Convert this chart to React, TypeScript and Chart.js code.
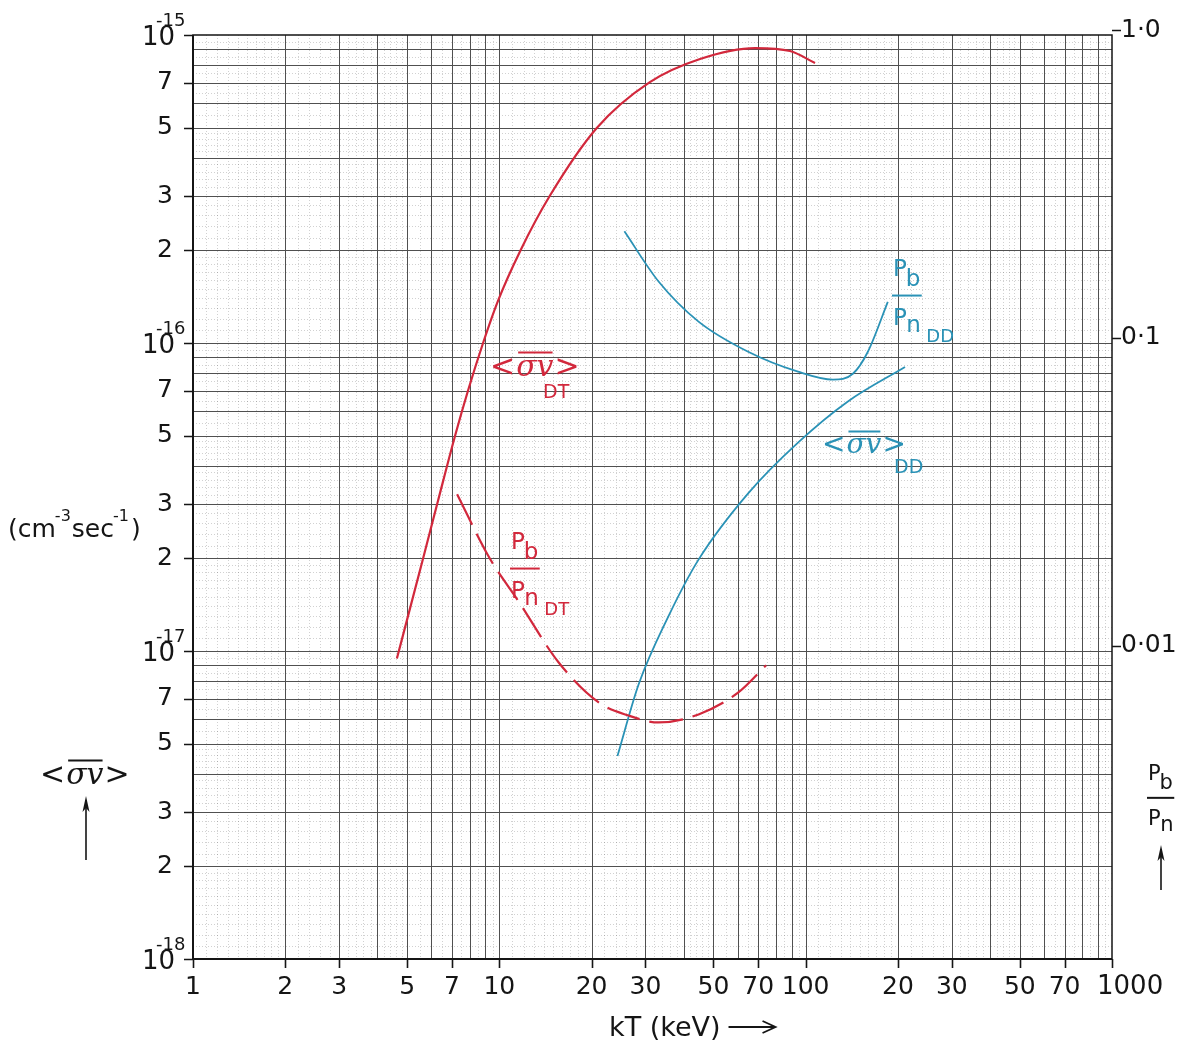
import React, { useEffect, useRef } from "react";
import { Chart, registerables } from "chart.js";

Chart.register(...registerables);

const RED = "#d2283c";
const BLUE = "#2a92b6";
const INK = "#151515";
const FONT = "'DejaVu Sans', sans-serif";
const SERIF = "'DejaVu Serif', serif";

// ---- axis ticks ----
const xTickValues = [1, 2, 3, 5, 7, 10, 20, 30, 50, 70, 100, 200, 300, 500, 700, 1000];
const xTickLabels = ["1", "2", "3", "5", "7", "10", "20", "30", "50", "70", "100", "20", "30", "50", "70", "1000"];
const yTickValues = [
  1e-18, 2e-18, 3e-18, 5e-18, 7e-18,
  1e-17, 2e-17, 3e-17, 5e-17, 7e-17,
  1e-16, 2e-16, 3e-16, 5e-16, 7e-16,
  1e-15,
];
const yTickLabels = [
  "", "2", "3", "5", "7",
  "", "2", "3", "5", "7",
  "", "2", "3", "5", "7",
  "",
];
const yDecadeValues = [1e-18, 1e-17, 1e-16, 1e-15];
const yDecadeExponents = ["-18", "-17", "-16", "-15"];
const ratioTickValues = [1.0, 0.1, 0.01];
const ratioTickLabels = ["1·0", "0·1", "0·01"];

// ---- series: <σv> DT (cm^3/s) ----
const dtSigmaKT = [4.63, 5.64, 6.31, 7.17, 7.9, 8.85, 9.9, 11.7, 14.6, 20.8, 31.0, 45.2, 68.4, 88.9, 107.3];
const dtSigmaV = [9.46e-18, 2.0e-17, 3.08e-17, 5.0e-17, 7.0e-17, 1.0e-16, 1.37e-16, 1.99e-16, 3.0e-16, 4.99e-16, 7.03e-16, 8.36e-16, 9.07e-16, 8.87e-16, 8.11e-16];

// ---- series: Pb/Pn DT (right axis) ----
const dtRatioKT = [7.28, 9.26, 11.6, 15.6, 21.1, 26.4, 33.1, 44.7, 60.3, 74.3];
const dtRatio = [0.0311, 0.0194, 0.01387, 0.00885, 0.00655, 0.00594, 0.00564, 0.00599, 0.00706, 0.00865];

// ---- series: <σv> DD ----
const ddSigmaKT = [24.3, 28.5, 35.7, 44.7, 64.9, 94.4, 137, 211];
const ddSigmaV = [4.56e-18, 7.8e-18, 1.3e-17, 1.98e-17, 3.25e-17, 4.75e-17, 6.45e-17, 8.36e-17];

// ---- series: Pb/Pn DD (right axis) ----
const ddRatioKT = [25.6, 33.1, 44.7, 64.9, 94.4, 122.8, 142.6, 159.6, 185.4];
const ddRatio = [0.222, 0.1525, 0.113, 0.0902, 0.0777, 0.0732, 0.0765, 0.0902, 0.131];

const pts = (xs: number[], ys: number[]) => xs.map((x, i) => ({ x, y: ys[i] }));

function minorSteps(): number[] {
  const out: number[] = [];
  for (let m = 1.1; m < 1.999; m += 0.1) out.push(+m.toFixed(2));
  for (let m = 2.2; m < 4.999; m += 0.2) out.push(+m.toFixed(2));
  for (let m = 5.5; m < 9.999; m += 0.5) out.push(+m.toFixed(2));
  return out.filter((m) => Math.abs(m - Math.round(m)) > 1e-6);
}

function drawGrid(chart: any) {
  const { ctx, chartArea, scales } = chart;
  const { left, right, top, bottom } = chartArea;
  const xs = scales.x;
  const ys = scales.y;
  const minors = minorSteps();
  ctx.save();
  ctx.strokeStyle = "rgba(0,0,0,0.18)";
  ctx.lineWidth = 1;
  ctx.setLineDash([1, 2]);
  ctx.beginPath();
  for (const d of [1, 10, 100]) {
    for (const m of minors) {
      const px = Math.round(xs.getPixelForValue(d * m)) + 0.5;
      ctx.moveTo(px, top);
      ctx.lineTo(px, bottom);
    }
  }
  for (const d of [1e-18, 1e-17, 1e-16]) {
    for (const m of minors) {
      const py = Math.round(ys.getPixelForValue(d * m)) + 0.5;
      ctx.moveTo(left, py);
      ctx.lineTo(right, py);
    }
  }
  ctx.stroke();
  ctx.setLineDash([]);
  ctx.strokeStyle = "#505050";
  ctx.lineWidth = 1;
  ctx.beginPath();
  for (const d of [1, 10, 100]) {
    for (let m = 2; m <= 10; m++) {
      if (d === 100 && m === 10) continue;
      const px = Math.round(xs.getPixelForValue(d * m)) + 0.5;
      ctx.moveTo(px, top);
      ctx.lineTo(px, bottom);
    }
  }
  for (const d of [1e-18, 1e-17, 1e-16]) {
    for (let m = 2; m <= 10; m++) {
      if (d === 1e-16 && m === 10) continue;
      const py = Math.round(ys.getPixelForValue(d * m)) + 0.5;
      ctx.moveTo(left, py);
      ctx.lineTo(right, py);
    }
  }
  ctx.stroke();
  ctx.strokeStyle = INK;
  ctx.lineWidth = 1.5;
  ctx.strokeRect(left, top, right - left, bottom - top);
  ctx.lineWidth = 2;
  ctx.beginPath();
  ctx.moveTo(left, top);
  ctx.lineTo(left, bottom);
  ctx.lineTo(right, bottom);
  ctx.stroke();
  ctx.restore();
}

function txt(ctx: any, s: string, x: number, y: number, font: string, color: string, align = "left", base = "alphabetic") {
  ctx.font = font;
  ctx.fillStyle = color;
  ctx.textAlign = align;
  ctx.textBaseline = base;
  ctx.fillText(s, x, y);
  return ctx.measureText(s).width;
}

function sigmaV(ctx: any, x: number, yMid: number, size: number, color: string) {
  const f1 = `${size}px ${FONT}`;
  const f2 = `italic ${size}px ${SERIF}`;
  let cx = x;
  cx += txt(ctx, "<", cx, yMid, f1, color, "left", "middle");
  const w = txt(ctx, "σv", cx + 1, yMid, f2, color, "left", "middle");
  ctx.save();
  ctx.strokeStyle = color;
  ctx.lineWidth = 2;
  ctx.beginPath();
  ctx.moveTo(cx + 3, yMid - size * 0.52);
  ctx.lineTo(cx + w, yMid - size * 0.52);
  ctx.stroke();
  ctx.restore();
  txt(ctx, ">", cx + w + 2, yMid, f1, color, "left", "middle");
}

function pbpn(ctx: any, x: number, baseTop: number, color: string, size: number, sub: string) {
  const f = `${size}px ${FONT}`;
  txt(ctx, "P", x, baseTop, f, color);
  txt(ctx, "b", x + size * 0.55, baseTop + size * 0.45, f, color);
  ctx.save();
  ctx.strokeStyle = color;
  ctx.lineWidth = 2;
  ctx.beginPath();
  ctx.moveTo(x - 1, baseTop + size * 0.85);
  ctx.lineTo(x + size * 1.25, baseTop + size * 0.85);
  ctx.stroke();
  ctx.restore();
  txt(ctx, "P", x, baseTop + size * 2.15, f, color);
  txt(ctx, "n", x + size * 0.58, baseTop + size * 2.45, f, color);
  if (sub) txt(ctx, sub, x + size * 1.45, baseTop + size * 2.85, `${Math.round(size * 0.8)}px ${FONT}`, color);
}

function arrowUp(ctx: any, x: number, y0: number, y1: number) {
  ctx.save();
  ctx.strokeStyle = INK;
  ctx.fillStyle = INK;
  ctx.lineWidth = 1.6;
  ctx.beginPath();
  ctx.moveTo(x, y0);
  ctx.lineTo(x, y1 + 4);
  ctx.stroke();
  ctx.beginPath();
  ctx.moveTo(x, y1);
  ctx.lineTo(x - 3.5, y1 + 16);
  ctx.lineTo(x, y1 + 12);
  ctx.lineTo(x + 3.5, y1 + 16);
  ctx.closePath();
  ctx.fill();
  ctx.restore();
}

function drawOverlay(chart: any) {
  const { ctx, chartArea, scales } = chart;
  const { left, right, bottom } = chartArea;
  const xs = scales.x;
  const ys = scales.y;
  const y2 = scales.y2;
  ctx.save();
  ctx.strokeStyle = INK;
  ctx.lineWidth = 1.6;
  ctx.beginPath();
  for (const v of xTickValues) {
    const px = Math.round(xs.getPixelForValue(v)) + 0.5;
    ctx.moveTo(px, bottom);
    ctx.lineTo(px, bottom + 9);
  }
  for (const v of yTickValues) {
    const py = Math.round(ys.getPixelForValue(v)) + 0.5;
    ctx.moveTo(left - 9, py);
    ctx.lineTo(left, py);
  }
  for (const v of ratioTickValues) {
    const py = Math.round(y2.getPixelForValue(v)) + 0.5;
    ctx.moveTo(right, py);
    ctx.lineTo(right + 9, py);
  }
  ctx.stroke();

  // decade labels with exponents
  yDecadeValues.forEach((v, i) => {
    const py = ys.getPixelForValue(v);
    txt(ctx, "10", 175, py + 10, `26px ${FONT}`, INK, "right");
    txt(ctx, yDecadeExponents[i], 156, py - 9, `18px ${FONT}`, INK, "left");
  });
  // last x label sits to the right of its tick
  txt(ctx, xTickLabels[xTickLabels.length - 1], 1097, 994, `26px ${FONT}`, INK, "left");

  // right axis labels
  ratioTickValues.forEach((v, i) => {
    const py = y2.getPixelForValue(v);
    txt(ctx, ratioTickLabels[i], right + 9, py, `25px ${FONT}`, INK, "left", "middle");
  });

  // axis titles
  let cx = 8;
  const f26 = `25px ${FONT}`;
  const fs = `16px ${FONT}`;
  cx += txt(ctx, "(cm", cx, 537, f26, INK);
  cx += txt(ctx, "-3", cx - 1, 521, fs, INK);
  cx += txt(ctx, "sec", cx, 537, f26, INK);
  cx += txt(ctx, "-1", cx - 1, 521, fs, INK);
  txt(ctx, ")", cx + 1, 537, f26, INK);

  sigmaV(ctx, 40, 776, 30, INK);
  arrowUp(ctx, 86, 860, 796);

  pbpn(ctx, 1148, 780, INK, 21, "");
  arrowUp(ctx, 1161, 890, 845);

  const w = txt(ctx, "kT (keV)", 609, 1036, `27px ${FONT}`, INK);
  ctx.strokeStyle = INK;
  ctx.lineWidth = 1.8;
  ctx.beginPath();
  ctx.moveTo(609 + w + 8, 1027);
  ctx.lineTo(609 + w + 55, 1027);
  ctx.moveTo(609 + w + 42, 1021);
  ctx.lineTo(609 + w + 55, 1027);
  ctx.lineTo(609 + w + 42, 1033);
  ctx.stroke();

  // curve labels
  sigmaV(ctx, 490, 368, 30, RED);
  txt(ctx, "DT", 543, 398, `19px ${FONT}`, RED);
  pbpn(ctx, 511, 549, RED, 23, "DT");

  sigmaV(ctx, 822, 446, 28, BLUE);
  txt(ctx, "DD", 894, 473, `19px ${FONT}`, BLUE);
  pbpn(ctx, 893, 276, BLUE, 23, "DD");
  ctx.restore();
}

const paperPlugin = {
  id: "paper",
  beforeDatasetsDraw(chart: any) {
    drawGrid(chart);
  },
  afterDraw(chart: any) {
    drawOverlay(chart);
  },
};

export default function App() {
  const ref = useRef<HTMLCanvasElement>(null);
  useEffect(() => {
    document.body.style.margin = "0";
    const canvas = ref.current!;
    const tickFont = { family: FONT, size: 25 };
    const chart = new Chart(canvas, {
      type: "line",
      data: {
        datasets: [
          {
            label: "<σv> DT",
            data: pts(dtSigmaKT, dtSigmaV),
            yAxisID: "y",
            borderColor: RED,
            borderWidth: 2.2,
            pointRadius: 0,
            cubicInterpolationMode: "monotone",
            fill: false,
          },
          {
            label: "Pb/Pn DT",
            data: pts(dtRatioKT, dtRatio),
            yAxisID: "y2",
            borderColor: RED,
            borderWidth: 2.2,
            borderDash: [34, 10],
            pointRadius: 0,
            cubicInterpolationMode: "monotone",
            fill: false,
          },
          {
            label: "<σv> DD",
            data: pts(ddSigmaKT, ddSigmaV),
            yAxisID: "y",
            borderColor: BLUE,
            borderWidth: 1.8,
            pointRadius: 0,
            cubicInterpolationMode: "monotone",
            fill: false,
          },
          {
            label: "Pb/Pn DD",
            data: pts(ddRatioKT, ddRatio),
            yAxisID: "y2",
            borderColor: BLUE,
            borderWidth: 1.8,
            pointRadius: 0,
            cubicInterpolationMode: "monotone",
            fill: false,
          },
        ],
      } as any,
      options: {
        responsive: false,
        animation: false,
        devicePixelRatio: 1,
        parsing: false as any,
        layout: { padding: { top: 34, left: 0, right: 0, bottom: 0 } },
        plugins: {
          legend: { display: false },
          tooltip: { enabled: false },
        },
        scales: {
          x: {
            type: "logarithmic",
            position: "bottom",
            min: 1,
            max: 1000,
            grid: { display: false, drawTicks: false },
            border: { display: false },
            ticks: {
              autoSkip: false,
              maxRotation: 0,
              padding: 13,
              font: tickFont,
              color: INK,
              callback: (v: any) => {
                const i = xTickValues.indexOf(Number(v));
                if (i === xTickValues.length - 1) return "";
                return i >= 0 ? xTickLabels[i] : "";
              },
            },
            afterBuildTicks: (s: any) => {
              s.ticks = xTickValues.map((value) => ({ value }));
            },
            afterFit: (s: any) => {
              s.height = 85;
            },
          },
          y: {
            type: "logarithmic",
            position: "left",
            min: 1e-18,
            max: 1e-15,
            grid: { display: false, drawTicks: false },
            border: { display: false },
            ticks: {
              autoSkip: false,
              padding: 20,
              font: tickFont,
              color: INK,
              callback: (v: any) => {
                const i = yTickValues.indexOf(Number(v));
                return i >= 0 ? yTickLabels[i] : "";
              },
            },
            afterBuildTicks: (s: any) => {
              s.ticks = yTickValues.map((value) => ({ value }));
            },
            afterFit: (s: any) => {
              s.width = 193;
            },
          },
          y2: {
            type: "logarithmic",
            position: "right",
            min: 0.000962,
            max: 0.9634,
            grid: { display: false, drawTicks: false },
            border: { display: false },
            ticks: { display: false },
            afterFit: (s: any) => {
              s.width = 65;
            },
          },
        },
      } as any,
      plugins: [paperPlugin],
    });
    return () => chart.destroy();
  }, []);
  return (
    <div style={{ width: 1177, height: 1044, background: "#fff" }}>
      <canvas ref={ref} width={1177} height={1044} style={{ display: "block", width: 1177, height: 1044 }} />
    </div>
  );
}
